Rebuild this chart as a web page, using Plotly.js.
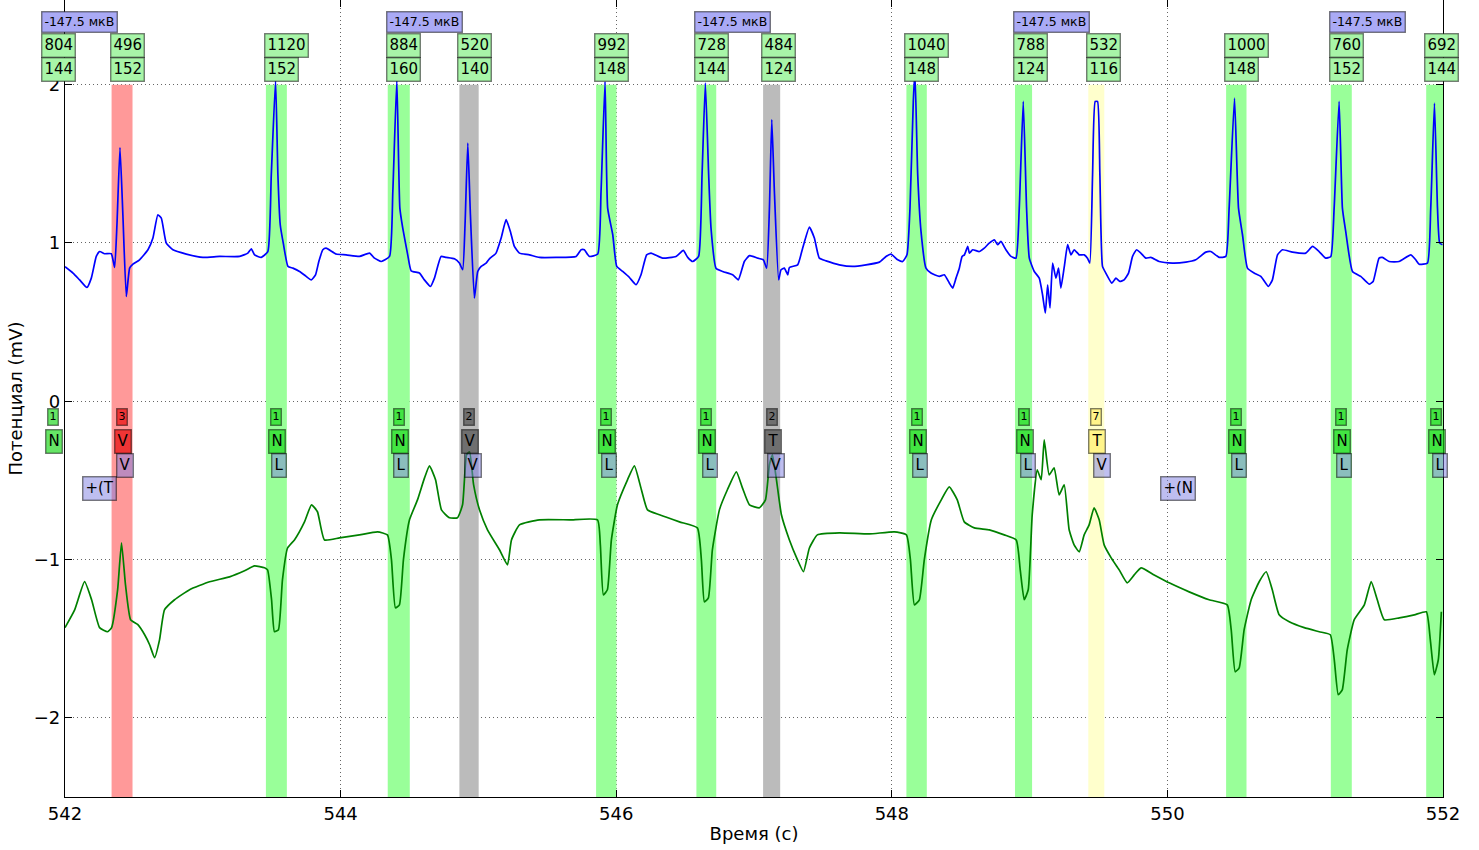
<!DOCTYPE html>
<html>
<head>
<meta charset="utf-8">
<script src="https://cdn.plot.ly/plotly-3.0.1.min.js"></script>
<style>
  html, body { margin: 0; padding: 0; background: #ffffff; }
  #chart { width: 1479px; height: 850px; }
</style>
</head>
<body>
<div id="chart"></div>
<script>
// ---- Lead 1 (upper trace), time in seconds and potential in mV ----
const lead1Time = [
  542.000, 542.058, 542.106, 542.159, 542.191, 542.227, 542.251, 542.287, 542.336, 542.360,
  542.377, 542.399, 542.420, 542.445, 542.469, 542.493, 542.541, 542.602, 542.638, 542.674,
  542.699, 542.735, 542.783, 542.880, 543.001, 543.122, 543.267, 543.327, 543.352, 543.376,
  543.424, 543.472, 543.497, 543.528, 543.545, 543.562, 543.586, 543.618, 543.654, 543.702,
  543.750, 543.787, 543.818, 543.842, 543.871, 543.895, 543.968, 544.040, 544.137, 544.210,
  544.246, 544.295, 544.355, 544.379, 544.408, 544.430, 544.451, 544.487, 544.512, 544.572,
  544.608, 544.652, 544.681, 544.729, 544.766, 544.826, 544.862, 544.886, 544.903, 544.923,
  544.942, 544.971, 544.995, 545.020, 545.056, 545.080, 545.128, 545.165, 545.201, 545.232,
  545.261, 545.298, 545.370, 545.443, 545.564, 545.709, 545.745, 545.769, 545.805, 545.866,
  545.890, 545.919, 545.938, 545.975, 546.004, 546.047, 546.096, 546.144, 546.180, 546.221,
  546.253, 546.337, 546.434, 546.487, 546.519, 546.555, 546.598, 546.623, 546.647, 546.671,
  546.688, 546.724, 546.773, 546.845, 546.886, 546.930, 546.967, 547.027, 547.068, 547.092,
  547.112, 547.129, 547.148, 547.179, 547.196, 547.220, 547.245, 547.257, 547.317, 547.353,
  547.402, 547.438, 547.474, 547.523, 547.619, 547.716, 547.813, 547.910, 547.958, 547.994,
  548.043, 548.079, 548.110, 548.132, 548.156, 548.168, 548.188, 548.212, 548.248, 548.284,
  548.345, 548.381, 548.418, 548.442, 548.466, 548.490, 548.510, 548.527, 548.551, 548.563,
  548.587, 548.635, 548.671, 548.707, 548.744, 548.768, 548.792, 548.828, 548.865, 548.901,
  548.925, 548.954, 548.978, 548.998, 549.034, 549.070, 549.094, 549.114, 549.131, 549.148,
  549.167, 549.191, 549.210, 549.227, 549.252, 549.276, 549.300, 549.324, 549.360, 549.396,
  549.420, 549.437, 549.457, 549.476, 549.493, 549.510, 549.529, 549.553, 549.597, 549.626,
  549.655, 549.686, 549.718, 549.747, 549.776, 549.807, 549.844, 549.880, 549.940, 550.037,
  550.134, 550.206, 550.279, 550.315, 550.376, 550.424, 550.448, 550.487, 550.516, 550.545,
  550.581, 550.629, 550.678, 550.733, 550.762, 550.799, 550.835, 550.908, 551.004, 551.053,
  551.101, 551.149, 551.186, 551.210, 551.246, 551.270, 551.294, 551.343, 551.403, 551.464,
  551.493, 551.536, 551.560, 551.609, 551.681, 551.766, 551.802, 551.827, 551.887, 551.911,
  551.938, 551.960, 551.976, 551.996
];
const lead1mV = [
  0.850, 0.810, 0.767, 0.719, 0.778, 0.915, 0.946, 0.932, 0.932, 0.845,
  1.115, 1.603, 1.178, 0.662, 0.841, 0.866, 0.894, 0.957, 1.031, 1.178,
  1.157, 0.999, 0.957, 0.930, 0.909, 0.915, 0.915, 0.936, 0.963, 0.925,
  0.909, 0.946, 1.431, 2.031, 1.431, 1.115, 0.989, 0.852, 0.841, 0.820,
  0.789, 0.767, 0.799, 0.883, 0.957, 0.967, 0.930, 0.925, 0.915, 0.936,
  0.904, 0.883, 0.915, 1.325, 2.031, 1.220, 1.094, 0.925, 0.824, 0.810,
  0.767, 0.725, 0.778, 0.915, 0.909, 0.900, 0.873, 0.831, 1.115, 1.631,
  1.178, 0.652, 0.820, 0.852, 0.873, 0.900, 0.936, 1.031, 1.147, 1.073,
  0.978, 0.936, 0.925, 0.909, 0.909, 0.915, 0.957, 0.957, 0.915, 0.930,
  1.325, 2.020, 1.220, 1.052, 0.852, 0.820, 0.782, 0.736, 0.799, 0.925,
  0.936, 0.904, 0.915, 0.953, 0.909, 0.883, 0.915, 1.431, 2.010, 1.431,
  1.094, 0.841, 0.820, 0.799, 0.767, 0.883, 0.920, 0.904, 0.894, 0.841,
  1.220, 1.780, 1.325, 0.767, 0.831, 0.841, 0.799, 0.845, 0.862, 0.967,
  1.100, 1.031, 0.904, 0.887, 0.862, 0.852, 0.862, 0.879, 0.915, 0.930,
  0.894, 0.883, 0.925, 1.220, 1.894, 2.080, 1.431, 1.073, 0.841, 0.810,
  0.789, 0.799, 0.746, 0.715, 0.778, 0.841, 0.915, 0.925, 0.978, 0.936,
  0.957, 0.946, 0.967, 0.999, 1.020, 0.989, 1.010, 0.957, 0.915, 0.904,
  1.220, 1.894, 1.220, 0.904, 0.820, 0.778, 0.673, 0.557, 0.736, 0.590,
  0.873, 0.778, 0.841, 0.715, 0.852, 0.989, 0.925, 0.957, 0.925, 0.925,
  0.904, 0.873, 1.431, 1.894, 1.894, 1.431, 0.852, 0.810, 0.746, 0.778,
  0.757, 0.767, 0.810, 0.915, 0.957, 0.936, 0.904, 0.909, 0.883, 0.873,
  0.879, 0.894, 0.942, 0.946, 0.909, 0.915, 1.220, 1.915, 1.220, 1.052,
  0.841, 0.810, 0.789, 0.725, 0.767, 0.925, 0.957, 0.942, 0.936, 0.978,
  0.946, 0.904, 0.915, 1.220, 1.894, 1.220, 1.073, 0.820, 0.789, 0.740,
  0.757, 0.904, 0.909, 0.883, 0.883, 0.925, 0.894, 0.866, 0.873, 1.220,
  1.883, 1.220, 0.999, 0.989
];

// ---- Lead 2 (lower trace, shifted down) ----
const lead2Time = [
  542.000, 542.070, 542.142, 542.193, 542.251, 542.309, 542.338, 542.382, 542.410, 542.439,
  542.476, 542.527, 542.578, 542.614, 542.650, 542.686, 542.722, 542.795, 542.904, 543.049,
  543.194, 543.303, 543.375, 543.448, 543.470, 543.499, 543.520, 543.549, 543.578, 543.615,
  543.665, 543.738, 543.789, 543.832, 543.883, 543.992, 544.137, 544.268, 544.340, 544.369,
  544.398, 544.427, 544.456, 544.500, 544.558, 544.609, 544.645, 544.689, 544.732, 544.790,
  544.848, 544.885, 544.914, 544.936, 544.965, 545.008, 545.066, 545.153, 545.211, 545.240,
  545.298, 545.443, 545.661, 545.864, 545.885, 545.907, 545.936, 545.965, 546.009, 546.082,
  546.132, 546.183, 546.227, 546.314, 546.459, 546.589, 546.618, 546.640, 546.669, 546.698,
  546.749, 546.807, 546.872, 546.916, 546.967, 547.040, 547.083, 547.112, 547.134, 547.163,
  547.199, 547.257, 547.315, 547.359, 547.402, 547.460, 547.620, 547.837, 548.019, 548.106,
  548.135, 548.164, 548.200, 548.236, 548.287, 548.359, 548.417, 548.475, 548.526, 548.599,
  548.708, 548.816, 548.903, 548.932, 548.961, 548.990, 549.019, 549.055, 549.084, 549.106,
  549.142, 549.178, 549.214, 549.251, 549.287, 549.323, 549.360, 549.396, 549.432, 549.468,
  549.505, 549.541, 549.592, 549.650, 549.708, 549.759, 549.809, 549.904, 550.013, 550.158,
  550.303, 550.434, 550.463, 550.492, 550.521, 550.557, 550.608, 550.666, 550.717, 550.761,
  550.811, 550.884, 550.993, 551.102, 551.182, 551.211, 551.240, 551.269, 551.305, 551.356,
  551.429, 551.479, 551.523, 551.574, 551.683, 551.792, 551.879, 551.908, 551.937, 551.966,
  551.988
];
const lead2mV = [
  -1.430, -1.318, -1.140, -1.254, -1.430, -1.456, -1.430, -1.190, -0.894, -1.160,
  -1.380, -1.410, -1.475, -1.538, -1.620, -1.507, -1.318, -1.254, -1.190, -1.140,
  -1.109, -1.071, -1.040, -1.052, -1.065, -1.254, -1.456, -1.443, -1.128, -0.927,
  -0.876, -0.762, -0.654, -0.698, -0.876, -0.863, -0.844, -0.825, -0.844, -1.000,
  -1.305, -1.286, -1.000, -0.749, -0.623, -0.484, -0.408, -0.496, -0.686, -0.736,
  -0.736, -0.654, -0.338, -0.319, -0.527, -0.686, -0.812, -0.938, -1.033, -0.876,
  -0.781, -0.749, -0.749, -0.749, -0.907, -1.223, -1.191, -0.876, -0.654, -0.496,
  -0.408, -0.559, -0.686, -0.717, -0.762, -0.800, -1.000, -1.267, -1.242, -0.938,
  -0.686, -0.559, -0.446, -0.547, -0.654, -0.673, -0.623, -0.401, -0.338, -0.496,
  -0.717, -0.876, -1.000, -1.077, -0.927, -0.844, -0.831, -0.838, -0.825, -0.844,
  -1.000, -1.286, -1.254, -1.000, -0.749, -0.623, -0.541, -0.623, -0.762, -0.800,
  -0.812, -0.844, -0.876, -1.065, -1.254, -1.191, -0.717, -0.433, -0.496, -0.243,
  -0.465, -0.420, -0.591, -0.528, -0.812, -0.907, -0.951, -0.844, -0.781, -0.673,
  -0.749, -0.907, -0.989, -1.065, -1.147, -1.097, -1.052, -1.097, -1.147, -1.204,
  -1.254, -1.286, -1.443, -1.709, -1.684, -1.443, -1.254, -1.140, -1.077, -1.191,
  -1.349, -1.393, -1.430, -1.456, -1.475, -1.633, -1.854, -1.823, -1.571, -1.380,
  -1.286, -1.140, -1.254, -1.380, -1.368, -1.349, -1.330, -1.507, -1.728, -1.633,
  -1.330
];

// ---- Beat annotations ----
const firstBeatOnset = 541.842;                 // s
const rrIntervalsMs = [804, 496, 1120, 884, 520, 992, 728, 484, 1040, 788, 532, 1000, 760, 692];
const qrsWidthsMs   = [144, 152, 152, 160, 140, 148, 144, 124, 148, 124, 116, 148, 152, 144];
const beatClasses   = ['1', '3', '1', '1', '2', '1', '1', '2', '1', '1', '7', '1', '1', '1'];
const beatLabels    = ['N', 'V', 'N', 'N', 'V', 'N', 'N', 'T', 'N', 'N', 'T', 'N', 'N', 'N'];
const refLabels     = ['',  'V', 'L', 'L', 'V', 'L', 'L', 'V', 'L', 'L', 'V', 'L', 'L', 'L'];
const amplitudeText = '-147.5 мкВ';
const amplitudeBeats = [0, 3, 6, 9, 12];
const rhythmTimes = [542.251, 550.080];
const rhythmTexts = ['+(T', '+(N'];

// ---- Axis ticks ----
const xTickValues = [542, 544, 546, 548, 550, 552];
const yTickValues = [-2, -1, 0, 1, 2];
const yTickTexts  = ['\u22122', '\u22121', '0', '1', '2'];

// ---- Styling ----
const FONT = 'DejaVu Sans, Liberation Sans, sans-serif';
const X_RANGE = [542, 552];
const Y_RANGE = [-2.5, 2.535];
const BAND_TOP = 2;
const classStyle = {
  '1': { band: 'rgb(153,255,153)', box: 'rgba(20,215,20,0.65)' },
  '3': { band: 'rgb(255,153,153)', box: 'rgba(230,0,0,0.65)' },
  '2': { band: 'rgb(187,187,187)', box: 'rgba(60,60,60,0.6)' },
  '7': { band: 'rgb(255,255,204)', box: 'rgba(255,240,110,0.7)' }
};
const refBoxColor = 'rgba(125,125,225,0.5)';
const numberBoxColor = 'rgb(168,245,168)';
const amplitudeBoxColor = 'rgb(170,170,245)';
const boxEdge = 'rgba(0,0,0,0.5)';

// beat onsets follow from the RR intervals
const onsets = [];
rrIntervalsMs.forEach((rr, i) => {
  onsets.push(i === 0 ? firstBeatOnset : onsets[i - 1] + rr / 1000);
});

// annotations use paper x so that labels of beats just left of the window still show
function paperX(t) { return (t - X_RANGE[0]) / (X_RANGE[1] - X_RANGE[0]); }

function labelBox(t, v, text, size, bg, anchor, shift, pad) {
  return {
    xref: 'paper', yref: 'y', x: paperX(t), y: v,
    text: text, showarrow: false,
    xanchor: anchor, yanchor: 'middle', xshift: shift || 0,
    font: { family: FONT, size: size, color: '#000000' },
    bgcolor: bg, bordercolor: boxEdge, borderwidth: 1.4, borderpad: pad
  };
}

const shapes = [];
const annotations = [];

onsets.forEach((t0, i) => {
  const width = qrsWidthsMs[i] / 1000;
  const style = classStyle[beatClasses[i]];
  const mid = t0 + width / 2;

  shapes.push({
    type: 'rect', xref: 'x', yref: 'y',
    x0: t0, x1: t0 + width, y0: Y_RANGE[0], y1: BAND_TOP,
    fillcolor: style.band, line: { width: 0 }, layer: 'between'
  });

  if (amplitudeBeats.indexOf(i) >= 0) {
    annotations.push(labelBox(t0, 2.397, amplitudeText, 12.5, amplitudeBoxColor, 'left', -2, 2));
  }
  annotations.push(labelBox(t0, 2.246, String(rrIntervalsMs[i]), 15, numberBoxColor, 'left', -2, 2));
  annotations.push(labelBox(t0, 2.094, String(qrsWidthsMs[i]), 15, numberBoxColor, 'left', -2, 2));

  annotations.push(labelBox(mid, -0.097, beatClasses[i], 11, style.box, 'center', 0, 1));
  annotations.push(labelBox(mid, -0.256, beatLabels[i], 15, style.box, 'center', 1, 2));
  if (refLabels[i]) {
    annotations.push(labelBox(t0 + 0.097, -0.403, refLabels[i], 15, refBoxColor, 'center', 0, 2));
  }
});

rhythmTimes.forEach((t, i) => {
  annotations.push(labelBox(t, -0.553, rhythmTexts[i], 15, refBoxColor, 'center', 0, 2));
});

const traces = [
  {
    x: lead1Time, y: lead1mV, type: 'scatter', mode: 'lines',
    line: { color: '#0000ff', width: 1.7, shape: 'spline', smoothing: 0.45 }, hoverinfo: 'skip'
  },
  {
    x: lead2Time, y: lead2mV, type: 'scatter', mode: 'lines',
    line: { color: '#008000', width: 1.7, shape: 'spline', smoothing: 0.45 }, hoverinfo: 'skip'
  }
];

const axisCommon = {
  showline: true, linecolor: '#000000', linewidth: 1.2, mirror: 'ticks',
  ticks: 'inside', ticklen: 7, tickcolor: '#000000', tickwidth: 1,
  showgrid: true, gridcolor: 'rgba(0,0,0,0.6)', gridwidth: 1, griddash: '1px,3px',
  zeroline: false, automargin: false,
  tickfont: { family: FONT, size: 18, color: '#000000' }
};

const layout = {
  width: 1479, height: 850,
  margin: { l: 65, r: 36, t: 0, b: 53 },
  paper_bgcolor: '#ffffff', plot_bgcolor: '#ffffff',
  showlegend: false,
  xaxis: Object.assign({}, axisCommon, {
    range: X_RANGE, tickmode: 'array', tickvals: xTickValues,
    ticktext: xTickValues.map(String),
    title: { text: 'Время (с)', font: { family: FONT, size: 18, color: '#000000' }, standoff: 4 }
  }),
  yaxis: Object.assign({}, axisCommon, {
    range: Y_RANGE, tickmode: 'array', tickvals: yTickValues, ticktext: yTickTexts,
    title: { text: 'Потенциал (mV)', font: { family: FONT, size: 18, color: '#000000' }, standoff: 6 }
  }),
  shapes: shapes,
  annotations: annotations
};

Plotly.newPlot('chart', traces, layout, { staticPlot: true, displayModeBar: false });
</script>
</body>
</html>
